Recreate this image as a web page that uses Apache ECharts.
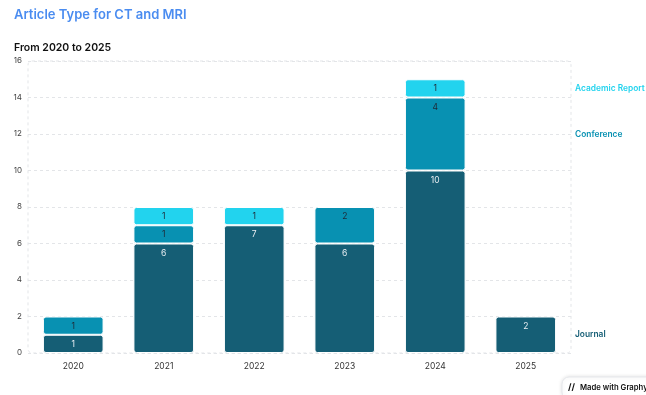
<!DOCTYPE html>
<html><head><meta charset="utf-8">
<script src="https://cdn.jsdelivr.net/npm/echarts@6/dist/echarts.min.js"></script>
<style>html,body{margin:0;padding:0;background:#fff}#c{width:646px;height:395px}</style>
</head><body><div id="c"></div>
<script>
const categories = ['2020','2021','2022','2023','2024','2025'];
const journal = [1, 6, 7, 6, 10, 2];
const conference = [1, 1, 0, 2, 4, 0];
const academicReport = [0, 1, 1, 0, 1, 0];
const yTicks = [0, 2, 4, 6, 8, 10, 12, 14, 16];

const seriesDefs = [
  {name:'Journal', data: journal, color:'#155e75', label:'#e8eef2'},
  {name:'Conference', data: conference, color:'#0891b2', label:'#1f2937'},
  {name:'Academic Report', data: academicReport, color:'#22d3ee', label:'#1f2937'}
];
const FONT = 'Inter, "Noto Sans", sans-serif';
const chart = echarts.init(document.getElementById('c'));
const option = {
  animation:false,
  textStyle:{fontFamily:FONT},
  title:[
    {text:'Article Type for CT and MRI', left:9, top:4, textStyle:{fontFamily:FONT, fontSize:13, fontWeight:600, color:'#4a8cf0'}},
    {text:'From 2020 to 2025', left:9, top:37, textStyle:{fontFamily:FONT, fontSize:10.5, fontWeight:600, color:'#111'}}
  ],
  grid:{left:28, right:75, top:61, bottom:42},
  xAxis:{type:'category', data:categories, axisLine:{show:false}, axisTick:{show:false},
    axisLabel:{fontSize:8.5, color:'#333', margin:9, fontFamily:FONT}},
  yAxis:{type:'value', min:yTicks[0], max:yTicks[yTicks.length-1], interval:2,
    axisLine:{show:false}, axisTick:{show:false},
    axisLabel:{fontSize:8, color:'#444', margin:6, fontFamily:FONT},
    splitLine:{lineStyle:{type:[3,3], color:'#e3e5e8'}}},
  series: seriesDefs.map(s => ({
    name:s.name, type:'bar', stack:'total', barWidth:'67%',
    data: s.data.map(v => v === 0 ? '-' : v),
    itemStyle:{color:s.color, borderColor:'#fff', borderWidth:1, borderRadius:2.5},
    label:{show:true, position:'insideTop', distance:5, fontSize:8.5, color:s.label, fontFamily:FONT,
      formatter: p => (p.value ? String(p.value) : '')}
  }))
};
chart.setOption(option);

// Right-side series labels at the middle of each series' last non-zero segment
const graphics = [];
const tl = chart.convertToPixel({gridIndex:0}, [0, yTicks[yTicks.length-1]]);
const br = chart.convertToPixel({gridIndex:0}, [categories.length-1, 0]);
const half = (chart.convertToPixel({gridIndex:0}, [1, 0])[0] - chart.convertToPixel({gridIndex:0}, [0, 0])[0]) / 2;
const gx0 = tl[0] - half, gx1 = br[0] + half, gy0 = tl[1], gy1 = br[1];
graphics.push({type:'rect', shape:{x:gx0, y:gy0, width:gx1-gx0, height:gy1-gy0, r:4}, silent:true,
  style:{fill:'none', stroke:'#e3e5e8', lineWidth:1, lineDash:[3,3]}, z:-1});
seriesDefs.forEach((s, si) => {
  let idx = -1;
  for (let i = s.data.length-1; i >= 0; i--) if (s.data[i]) { idx = i; break; }
  if (idx < 0) return;
  let below = 0;
  for (let j = 0; j < si; j++) below += seriesDefs[j].data[idx] || 0;
  const mid = below + s.data[idx]/2;
  const py = chart.convertToPixel({gridIndex:0}, [idx, mid])[1];
  graphics.push({type:'text', x:gx1+4, y:py, style:{text:s.name, fill:s.color, font:'600 8.4px '+FONT, verticalAlign:'middle'}});
});
// Badge
graphics.push({type:'rect', shape:{x:562, y:377, width:92, height:22, r:7}, style:{fill:'#fff', stroke:'#e5e7eb', lineWidth:1, shadowBlur:4, shadowColor:'rgba(0,0,0,0.12)'}});
graphics.push({type:'text', x:568, y:387.5, style:{text:'//', fill:'#111', font:'bold 9px '+FONT, verticalAlign:'middle'}});
graphics.push({type:'text', x:580, y:387.5, style:{text:'Made with Graphy', fill:'#111', font:'600 7.7px '+FONT, verticalAlign:'middle'}});
chart.setOption({graphic:graphics});
</script></body></html>
